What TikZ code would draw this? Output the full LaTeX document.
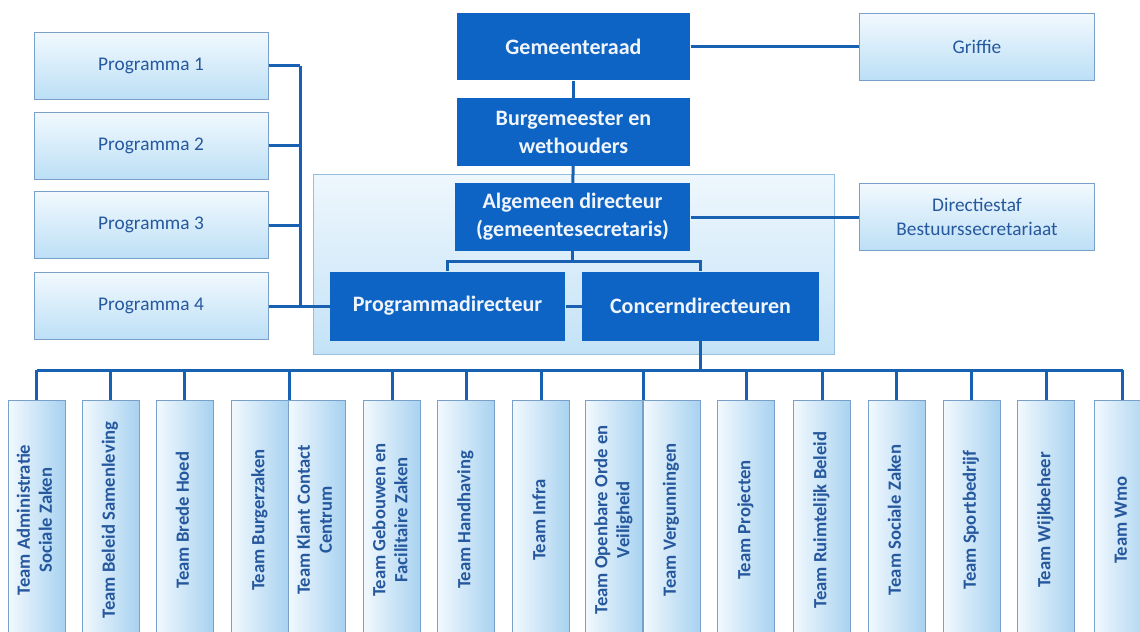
\documentclass[tikz,border=0pt]{standalone}
\usepackage{fontspec}
\setmainfont{Carlito}

\definecolor{dkblue}{RGB}{14,100,196}
\definecolor{lnblue}{RGB}{24,96,178}
\definecolor{txblue}{RGB}{38,88,158}
\definecolor{edblue}{RGB}{120,160,200}

\tikzset{every picture/.style={line width=0.75pt}}
\tikzset{
  darkbox/.style={fill=dkblue, text={rgb,255:red,240;green,245;blue,252}, align=center, inner sep=0pt,
    font=\bfseries\fontsize{16.5}{21}\selectfont, minimum width=175pt, minimum height=50.5pt},
  lightbox/.style={draw=edblue, top color={rgb,255:red,242;green,249;blue,254}, bottom color={rgb,255:red,188;green,223;blue,246},
    text=txblue, align=center, inner sep=0pt, font=\fontsize{14.5}{18}\selectfont,
    minimum width=176pt, minimum height=50.25pt},
  teambox/.style={draw=edblue, left color={rgb,255:red,242;green,249;blue,254}, right color={rgb,255:red,168;green,210;blue,240},
    text=txblue, inner sep=0pt, font=\bfseries\fontsize{14}{16.5}\selectfont,
    minimum width=42.75pt, minimum height=180pt},
  link/.style={draw=lnblue, line width=2.25pt},
}
\newcommand{\teamtext}[1]{\rotatebox{90}{\begin{tabular}{@{}c@{}}#1\end{tabular}}}

\begin{document}
\begin{tikzpicture}[x=0.75pt,y=0.75pt,yscale=-1,xscale=1]
\path[use as bounding box] (0,0) rectangle (1140,632);
\clip (0,0) rectangle (1140,632);

%Shape: Rectangle (directie)
\node [draw={rgb,255:red,150;green,190;blue,222}, top color={rgb,255:red,238;green,247;blue,253}, bottom color={rgb,255:red,196;green,226;blue,247},
  minimum width=390.75pt, minimum height=135pt] (dir) at (573.5,264) {};

% Bestuur
\node [darkbox] (gr) at (573.5,46.5) {Gemeenteraad};
\node [darkbox] (bw) at (573.5,132) {Burgemeester en\\wethouders};
\node [darkbox, minimum width=176.25pt] (ad) at (572.5,217) {Algemeen directeur\\(gemeentesecretaris)};
\node [darkbox, minimum width=176.25pt, minimum height=51.75pt] (pd) at (447.5,306) {Programmadirecteur};
\node [darkbox, minimum width=177.75pt, minimum height=51.75pt] (cd) at (700.5,306) {Concerndirecteuren};

% Staf
\node [lightbox] (gf) at (977,46.5) {Griffie};
\node [lightbox] (ds) at (977,217) {Directiestaf\\Bestuurssecretariaat};

% Programma's
\foreach \py/\pn in {65.5/1,145.5/2,225/3,306/4}
  \node [lightbox, minimum width=175.5pt] (p\pn) at (151,\py) {Programma \pn};

% Teams
\foreach \tx/\tn/\tl in {36.5/ta/{Team Administratie\\Sociale Zaken},110.5/tb/{Team Beleid Samenleving},184.5/tc/{Team Brede Hoed},
  260/td/{Team Burgerzaken},316.5/te/{Team Klant Contact\\Centrum},392/tf/{Team Gebouwen en\\Facilitaire Zaken},
  466/tg/{Team Handhaving},541/th/{Team Infra},614/ti/{Team Openbare Orde en\\Veiligheid},671.5/tj/{Team Vergunningen},
  746/tk/{Team Projecten},822/tl/{Team Ruimtelijk Beleid},896.5/tm/{Team Sociale Zaken},971.5/tn/{Team Sportbedrijf},
  1046/to/{Team Wijkbeheer},1122.5/tp/{Team Wmo}}
  \node [teambox] (\tn) at (\tx,520) {\teamtext{\tl}};

%Straight Lines
\coordinate (pbus) at (300,0);
\coordinate (tbus) at (0,370);
\coordinate (split) at (572.5,261);
\draw [link] (gr) -- (gf);
\draw [link] (gr) -- (bw);
\draw [link] (bw) -- (ad);
\draw [link] (ad) -- (ds);
\draw [link] (ad.south) -- (split);
\draw [link] (pd.north) |- (split) -| (cd.north);
\draw [link] (pd) -- (cd);
\foreach \pn in {1,2,3}
  \draw [link] (p\pn.east) -- (p\pn.east -| pbus);
\draw [link] (p1.east -| pbus) -- (p4.east -| pbus);
\draw [link] (p4) -- (pd);
\draw [link] (cd.south) -- (cd.south |- tbus);
\draw [link] (ta.north |- tbus) -- (tp.north |- tbus);
\foreach \tn in {ta,tb,tc,tf,tg,th,tk,tl,tm,tn,to,tp}
  \draw [link] (\tn.north |- tbus) -- (\tn.north);
\draw [link] (td.north east |- tbus) -- (td.north east);
\draw [link] (ti.north east |- tbus) -- (ti.north east);

\end{tikzpicture}
\end{document}
